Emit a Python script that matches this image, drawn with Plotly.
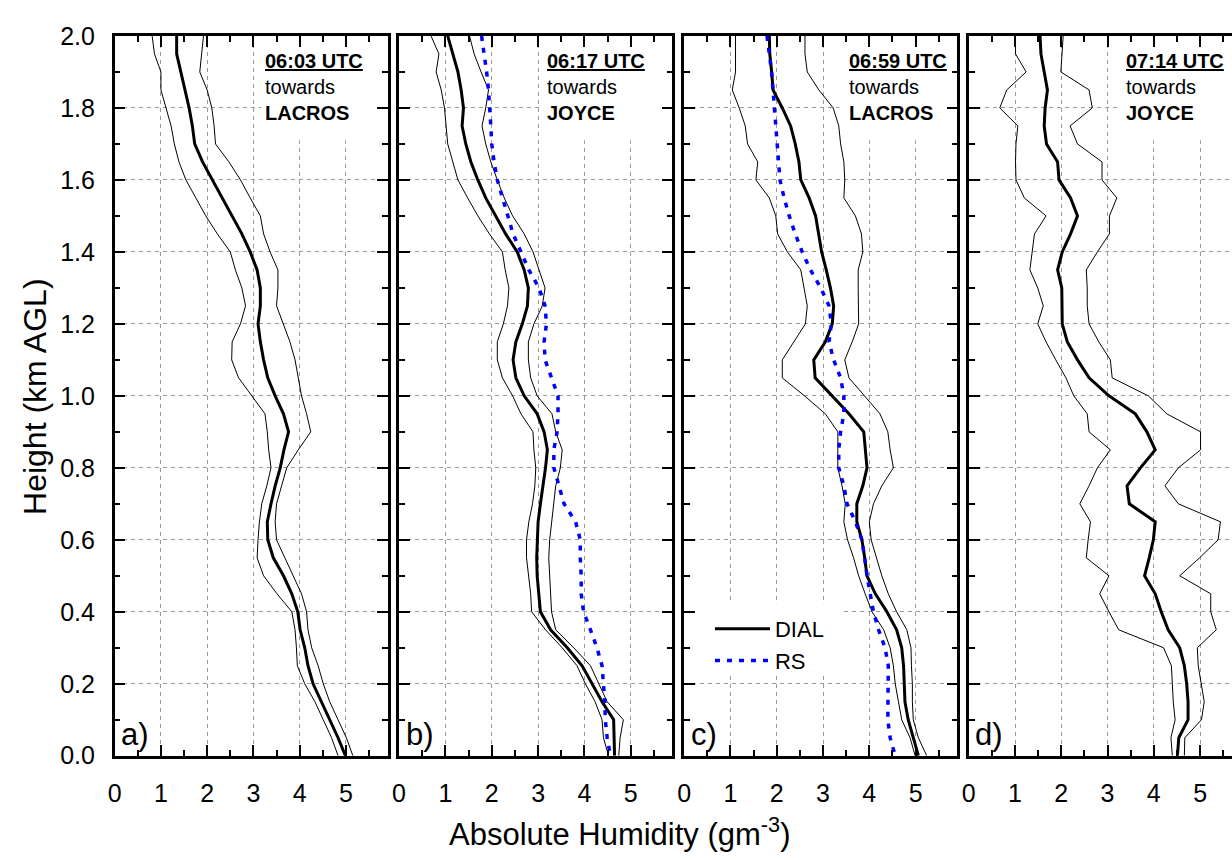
import plotly.graph_objects as go

# ---------------- data ----------------
heights = [2.0, 1.95, 1.9, 1.85, 1.8, 1.75, 1.7, 1.65, 1.6, 1.55, 1.5, 1.45, 1.4, 1.35, 1.3,
           1.25, 1.2, 1.15, 1.1, 1.05, 1.0, 0.95, 0.9, 0.85, 0.8, 0.75, 0.7, 0.65, 0.6, 0.55,
           0.5, 0.45, 0.4, 0.35, 0.3, 0.25, 0.2, 0.15, 0.1, 0.05, 0.0]

a_mean = [1.34, 1.34, 1.43, 1.52, 1.61, 1.68, 1.73, 1.90, 2.11, 2.32, 2.54, 2.75, 2.93, 3.08, 3.15,
          3.15, 3.10, 3.15, 3.22, 3.31, 3.47, 3.65, 3.76, 3.66, 3.58, 3.47, 3.38, 3.30, 3.31, 3.43,
          3.65, 3.83, 3.96, 4.01, 4.11, 4.18, 4.29, 4.47, 4.65, 4.83, 4.99]
a_low = [0.81, 0.86, 1.00, 1.00, 1.11, 1.22, 1.29, 1.39, 1.54, 1.75, 1.97, 2.22, 2.50, 2.61, 2.75,
         2.83, 2.72, 2.54, 2.53, 2.68, 2.97, 3.25, 3.30, 3.33, 3.38, 3.29, 3.18, 3.13, 3.10, 3.08,
         3.22, 3.51, 3.83, 3.90, 3.93, 3.95, 4.11, 4.33, 4.51, 4.69, 4.83]
a_high = [1.92, 1.88, 1.84, 2.00, 2.10, 2.15, 2.18, 2.47, 2.72, 2.93, 3.15, 3.22, 3.36, 3.53, 3.53,
          3.50, 3.65, 3.79, 3.90, 3.97, 4.04, 4.15, 4.24, 3.97, 3.72, 3.61, 3.50, 3.47, 3.50, 3.68,
          3.86, 4.04, 4.15, 4.18, 4.26, 4.40, 4.51, 4.65, 4.83, 5.01, 5.15]

b_mean = [1.05, 1.16, 1.27, 1.34, 1.39, 1.36, 1.44, 1.55, 1.70, 1.87, 2.09, 2.30, 2.55, 2.70, 2.79,
          2.77, 2.66, 2.52, 2.46, 2.52, 2.70, 2.98, 3.13, 3.20, 3.16, 3.10, 3.05, 3.00, 2.98, 2.97,
          2.98, 3.02, 3.05, 3.27, 3.63, 3.95, 4.16, 4.38, 4.63, 4.64, 4.65]
b_low = [0.69, 0.86, 0.80, 0.91, 0.98, 1.02, 1.05, 1.16, 1.27, 1.48, 1.70, 1.95, 2.23, 2.29, 2.37,
         2.34, 2.25, 2.12, 2.12, 2.23, 2.45, 2.63, 2.89, 2.91, 2.95, 2.93, 2.88, 2.80, 2.75, 2.75,
         2.80, 2.84, 2.86, 3.16, 3.52, 3.84, 4.02, 4.23, 4.38, 4.41, 4.52]
b_high = [1.52, 1.62, 1.77, 1.93, 1.87, 1.79, 1.87, 1.98, 2.12, 2.27, 2.45, 2.70, 2.89, 3.02, 3.15,
          3.09, 2.91, 2.79, 2.79, 2.84, 2.98, 3.30, 3.38, 3.52, 3.48, 3.38, 3.34, 3.29, 3.25, 3.23,
          3.25, 3.27, 3.29, 3.38, 3.77, 4.13, 4.31, 4.49, 4.84, 4.77, 4.74]
b_rs = [1.78, 1.84, 1.89, 1.93, 1.96, 1.98, 2.00, 2.05, 2.12, 2.23, 2.34, 2.46, 2.63, 2.80, 3.02,
        3.15, 3.18, 3.13, 3.15, 3.30, 3.43, 3.43, 3.41, 3.34, 3.34, 3.45, 3.56, 3.81, 3.91, 3.91,
        3.93, 3.93, 3.98, 4.13, 4.27, 4.38, 4.41, 4.44, 4.45, 4.49, 4.56]

c_mean = [1.84, 1.85, 1.89, 1.92, 2.12, 2.30, 2.40, 2.48, 2.52, 2.70, 2.84, 2.91, 2.97, 3.07, 3.16,
          3.23, 3.20, 3.05, 2.80, 2.83, 3.20, 3.56, 3.88, 3.91, 3.95, 3.86, 3.73, 3.73, 3.84, 3.90,
          3.95, 4.13, 4.38, 4.59, 4.70, 4.74, 4.75, 4.77, 4.84, 4.95, 5.06]
c_low = [1.11, 1.11, 1.11, 1.04, 1.19, 1.32, 1.37, 1.59, 1.55, 1.84, 1.98, 2.02, 2.23, 2.52, 2.59,
         2.66, 2.62, 2.37, 2.12, 2.12, 2.60, 3.05, 3.32, 3.32, 3.32, 3.41, 3.48, 3.45, 3.53, 3.66,
         3.77, 3.91, 4.06, 4.31, 4.45, 4.52, 4.56, 4.63, 4.70, 4.88, 4.99]
c_high = [2.61, 2.61, 2.66, 2.91, 3.22, 3.34, 3.38, 3.45, 3.47, 3.45, 3.70, 3.83, 3.86, 3.76, 3.76,
          3.76, 3.77, 3.63, 3.47, 3.56, 3.90, 4.23, 4.40, 4.45, 4.52, 4.27, 4.09, 4.00, 4.04, 4.16,
          4.27, 4.41, 4.59, 4.81, 4.90, 4.91, 4.93, 4.93, 4.95, 5.06, 5.24]
c_rs = [1.79, 1.84, 1.89, 1.92, 1.95, 1.98, 2.00, 2.04, 2.07, 2.16, 2.27, 2.40, 2.55, 2.73, 2.95,
        3.13, 3.18, 3.13, 3.23, 3.38, 3.45, 3.45, 3.38, 3.34, 3.34, 3.45, 3.52, 3.70, 3.84, 3.90,
        3.95, 4.02, 4.09, 4.20, 4.34, 4.41, 4.41, 4.40, 4.40, 4.45, 4.56]

d_mean = [1.54, 1.56, 1.63, 1.70, 1.65, 1.63, 1.68, 1.92, 1.95, 2.20, 2.35, 2.20, 2.02, 1.92, 2.01,
          2.02, 2.02, 2.13, 2.35, 2.60, 3.03, 3.60, 3.85, 4.03, 3.71, 3.42, 3.47, 4.03, 3.99, 3.90,
          3.80, 4.03, 4.16, 4.31, 4.56, 4.66, 4.71, 4.74, 4.74, 4.54, 4.51]
d_low = [1.01, 1.01, 1.24, 0.82, 0.67, 1.06, 1.02, 1.01, 1.02, 1.20, 1.67, 1.42, 1.37, 1.32, 1.49,
         1.61, 1.49, 1.67, 1.88, 2.10, 2.27, 2.56, 2.60, 3.06, 2.78, 2.60, 2.40, 2.63, 2.58, 2.54,
         3.03, 2.83, 3.03, 3.24, 4.21, 4.38, 4.40, 4.42, 4.46, 4.37, 4.40]
d_high = [2.04, 2.01, 1.99, 2.60, 2.67, 2.19, 2.35, 2.88, 2.88, 3.20, 3.04, 3.04, 2.78, 2.54, 2.56,
          2.56, 2.60, 2.81, 3.06, 3.10, 3.88, 4.28, 5.01, 5.01, 4.53, 4.24, 4.53, 5.44, 5.39, 4.99,
          4.56, 5.23, 5.23, 5.35, 4.94, 4.96, 5.03, 5.09, 5.03, 4.67, 4.66]

panel_labels = ["a)", "b)", "c)", "d)"]
panel_times = ["06:03 UTC", "06:17 UTC", "06:59 UTC", "07:14 UTC"]
panel_sites = ["LACROS", "JOYCE", "LACROS", "JOYCE"]
x_ticks = [0, 1, 2, 3, 4, 5]
y_ticks = [0.0, 0.2, 0.4, 0.6, 0.8, 1.0, 1.2, 1.4, 1.6, 1.8, 2.0]

# ---------------- layout ----------------
W, H = 1232, 860
FONT = "Liberation Sans, Arial, Helvetica, sans-serif"
px_dom = [(108.3, 382.7), (394.3, 669.3), (681.0, 955.7), (967.3, 1232.0)]
x_max = [5.9, 5.9, 5.9, 5.69]
y_dom = [1 - 766.7 / H, 1 - 22.7 / H]
text_x = [3.21, 3.15, 3.52, 3.36]
mask_x0 = [3.17, 3.06, 3.35, 3.24]

panels = [
    (a_low, a_high, a_mean, None),
    (b_low, b_high, b_mean, b_rs),
    (c_low, c_high, c_mean, c_rs),
    (d_low, d_high, d_mean, None),
]

fig = go.Figure()
shapes = []
annotations = []
layout = {}

for i, (lo, hi, mean, rs) in enumerate(panels):
    sfx = "" if i == 0 else str(i + 1)
    xa, ya = "x" + sfx, "y" + sfx
    for prof in (lo, hi):
        fig.add_trace(go.Scatter(x=prof, y=heights, mode="lines", xaxis=xa, yaxis=ya,
                                 line=dict(color="black", width=1), showlegend=False,
                                 hoverinfo="skip"))
    fig.add_trace(go.Scatter(x=mean, y=heights, mode="lines", xaxis=xa, yaxis=ya,
                             line=dict(color="black", width=3), name="DIAL",
                             showlegend=(i == 2)))
    if rs is not None:
        fig.add_trace(go.Scatter(x=rs, y=heights, mode="lines", xaxis=xa, yaxis=ya,
                                 line=dict(color="#0000ff", width=3.5, dash="5px,7px"),
                                 name="RS", showlegend=(i == 2)))

    common_tick = dict(ticks="inside", tickwidth=2, tickcolor="black",
                       showline=True, linewidth=2.5, linecolor="black",
                       showgrid=True, gridcolor="#9a9a9a", gridwidth=1, griddash="4px,4px",
                       zeroline=False, tickfont=dict(family=FONT, size=25, color="black"))
    layout["xaxis" + sfx] = dict(
        domain=[px_dom[i][0] / W, px_dom[i][1] / W], range=[0, x_max[i]],
        anchor=ya, tickmode="array", tickvals=x_ticks, ticktext=[str(v) for v in x_ticks],
        ticklen=11, mirror="ticks",
        minor=dict(dtick=0.5, tick0=0, ticks="inside", ticklen=6, tickwidth=2,
                   tickcolor="black", showgrid=False),
        ticklabelstandoff=14, **common_tick)
    layout["yaxis" + sfx] = dict(
        domain=y_dom, range=[0, 2.0], anchor=xa, tickmode="array", tickvals=y_ticks,
        ticktext=["%.1f" % v for v in y_ticks], ticklen=11,
        mirror=("ticks" if i < 3 else False), showticklabels=(i == 0),
        minor=dict(dtick=0.1, tick0=0, ticks="inside", ticklen=6, tickwidth=2,
                   tickcolor="black", showgrid=False),
        ticklabelstandoff=12, **common_tick)

    # white mask hiding the grid behind the time/site text
    shapes.append(dict(type="rect", xref=xa, yref=ya, x0=mask_x0[i], x1=x_max[i],
                       y0=1.71, y1=2.0, fillcolor="white", line=dict(width=0),
                       layer="between"))
    annotations.append(dict(
        xref=xa, yref=ya, x=text_x[i], y=1.857, xanchor="left", yanchor="middle",
        align="left", showarrow=False,
        text="<b><u>%s</u></b><br>towards<br><b>%s</b>" % (panel_times[i], panel_sites[i]),
        font=dict(family=FONT, size=20, color="black")))
    annotations.append(dict(
        xref=xa, yref=ya, x=0.1, y=0.06, xanchor="left", yanchor="middle",
        showarrow=False, text=panel_labels[i],
        font=dict(family=FONT, size=31, color="black")))

# mask behind the legend (panel c)
shapes.append(dict(type="rect", xref="x3", yref="y3", x0=0, x1=3.37, y0=0.228, y1=0.421,
                   fillcolor="white", line=dict(width=0), layer="between"))

annotations.append(dict(xref="paper", yref="paper", x=28 / W, y=1 - 395 / H,
                        text="Height (km AGL)", textangle=-90, showarrow=False,
                        xanchor="center", yanchor="middle",
                        font=dict(family=FONT, size=32, color="black")))
annotations.append(dict(xref="paper", yref="paper", x=616 / W, y=1 - 846 / H,
                        text="Absolute Humidity (gm<sup>-3</sup>)", showarrow=False,
                        xanchor="center", yanchor="middle",
                        font=dict(family=FONT, size=31, color="black")))

fig.update_layout(
    width=W, height=H, margin=dict(l=0, r=0, t=0, b=0),
    paper_bgcolor="white", plot_bgcolor="white",
    shapes=shapes, annotations=annotations,
    legend=dict(x=707 / W, y=1 - 614 / H, xanchor="left", yanchor="top",
                bgcolor="rgba(0,0,0,0)", itemwidth=55,
                font=dict(family=FONT, size=22, color="black"), tracegroupgap=0),
    **layout,
)

fig.write_html("out.html")
